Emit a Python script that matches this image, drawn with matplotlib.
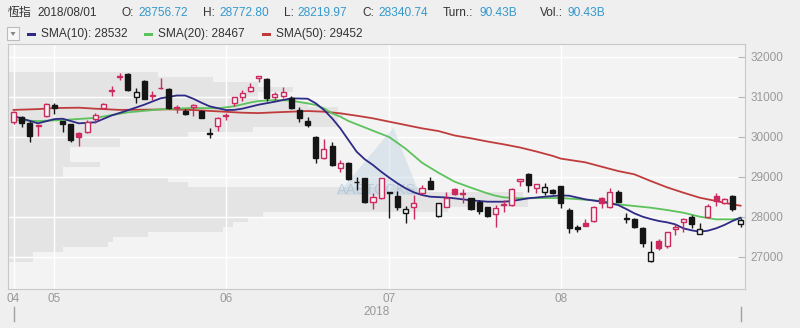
import numpy as np
import matplotlib.pyplot as plt
from matplotlib.patches import Rectangle, Polygon
from matplotlib.lines import Line2D
import matplotlib.transforms as mtransforms

plt.rcParams['font.family'] = ['Liberation Sans', 'Noto Sans CJK TC', 'DejaVu Sans']

# HSI daily candles, 2018-04-24 .. 2018-08-31
opens = [30359, 30500, 30334, 30280, 30525, 30792, 30392, 30325, 30100, 30108,
         30442, 30725, 31140, 31500, 31559, 31000, 31400, 31030, 31215, 31192,
         30715, 30642, 30733, 30642, 30090, 30275, 30515, 30833, 31000, 31150,
         31459, 31433, 30997, 31025, 30958, 30667, 30400, 30000, 29458, 29767,
         29208, 29333, 28880, 28958, 28358, 28458, 28600, 28525, 28100, 28234,
         28584, 28900, 28017, 28250, 28692, 28590, 28459, 28375, 28250, 28059,
         28300, 28292, 28892, 29067, 28725, 28625, 28667, 28756.72, 28167, 27750,
         27834, 27892, 28475, 28250, 28625, 27965, 27934, 27725, 26892, 27392,
         27275, 27684, 27859, 28000, 27567, 28000, 28525, 28350, 28525, 27809]
highs = [30640, 30517, 30392, 30300, 30850, 30833, 30400, 30330, 30125, 30417,
         30583, 30833, 31275, 31583, 31583, 31208, 31417, 31142, 31458, 31208,
         30792, 30683, 30817, 30667, 30208, 30500, 30583, 31000, 31167, 31333,
         31530, 31458, 31125, 31233, 31025, 30750, 30500, 30017, 29942, 29875,
         29417, 29375, 29000, 28975, 28583, 28975, 28620, 28642, 28275, 28542,
         28792, 28983, 28350, 28625, 28708, 28692, 28475, 28417, 28250, 28292,
         28417, 28709, 28942, 29083, 28817, 28834, 28692, 28772.80, 28225, 27792,
         27942, 28275, 28500, 28709, 28667, 28084, 27959, 27734, 27392, 27442,
         27625, 27809, 27959, 28042, 27834, 28309, 28584, 28475, 28542, 27975]
lows = [30330, 30250, 29875, 30025, 30500, 30560, 30125, 29860, 29775, 30083,
        30333, 30708, 31025, 31417, 31142, 30833, 30933, 30917, 31200, 30683,
        30583, 30542, 30525, 30458, 29975, 30142, 30417, 30775, 30892, 31125,
        31375, 30892, 30917, 30958, 30692, 30358, 30250, 29333, 29433, 29275,
        29125, 28917, 28667, 28350, 28192, 28442, 27975, 28167, 27850, 27942,
        28567, 28692, 28000, 28233, 28542, 28333, 28167, 28067, 28000, 27750,
        28125, 28275, 28775, 28625, 28584, 28542, 28559, 28219.97, 27584, 27625,
        27760, 27859, 28225, 28225, 28359, 27834, 27709, 27250, 26875, 27167,
        27225, 27542, 27609, 27709, 27559, 27975, 28275, 28309, 28142, 27750]
closes = [30625, 30334, 30025, 30295, 30809, 30725, 30309, 29917, 30000, 30375,
          30542, 30808, 31160, 31530, 31159, 31108, 30942, 31045, 31225, 30709,
          30730, 30575, 30792, 30475, 30075, 30475, 30530, 30983, 31083, 31250,
          31517, 30958, 31067, 31108, 30725, 30458, 30292, 29475, 29683, 29292,
          29333, 28933, 28870, 28358, 28500, 28958, 28610, 28250, 28183, 28333,
          28709, 28692, 28333, 28475, 28558, 28580, 28192, 28142, 28017, 28225,
          28310, 28684, 28934, 28792, 28817, 28734, 28584, 28340.74, 27725, 27684,
          27775, 28250, 28350, 28609, 28375, 27950, 27750, 27334, 27109, 27225,
          27609, 27750, 27942, 27809, 27684, 28275, 28392, 28434, 28192, 27917]
prev_close_0 = 30254

month_labels = ['04', '05', '06', '07', '08']
month_first = [0, 5, 26, 46, 67]

# moving averages, sampled along the drawn lines (day index, value)
sma10_i = [0, 3, 5, 6, 8, 10, 12, 14, 16, 18, 20, 21, 22, 23, 24, 26, 27, 28, 29, 30,
           32, 34, 36, 37, 38, 39, 40, 41, 42, 43, 44, 45, 46, 47, 48, 49, 50, 51, 53,
           54, 56, 58, 60, 61, 63, 65, 67, 68, 70, 72, 73, 74, 75, 76, 77, 78, 79, 80,
           81, 82, 83, 84, 85, 86, 87, 88, 89]
sma10_v = [30517, 30334, 30440, 30450, 30334, 30360, 30530, 30660, 30800, 30960,
           31030, 31030, 30950, 30850, 30760, 30667, 30670, 30700, 30750, 30800,
           30875, 30959, 30950, 30834, 30667, 30459, 30209, 29917, 29625, 29434,
           29292, 29125, 28975, 28834, 28709, 28609, 28542, 28500, 28480, 28459,
           28409, 28375, 28375, 28392, 28459, 28500, 28532, 28525, 28434, 28375,
           28334, 28292, 28192, 28084, 28000, 27942, 27892, 27859, 27809, 27709,
           27659, 27625, 27650, 27709, 27792, 27892, 27975]
sma20_i = [0, 3, 6, 10, 14, 18, 22, 25, 27, 29, 30, 32, 34, 36, 37, 38, 39, 40, 41,
           44, 46, 48, 50, 52, 54, 56, 58, 59, 60, 62, 64, 67, 70, 72, 74, 76, 78, 80,
           82, 84, 86, 88, 89]
sma20_v = [30420, 30390, 30417, 30470, 30609, 30684, 30720, 30709, 30760, 30855,
           30892, 30917, 30900, 30834, 30792, 30709, 30584, 30500, 30392, 30150,
           29990, 29700, 29350, 29100, 28875, 28725, 28584, 28525, 28484, 28459,
           28465, 28467, 28425, 28392, 28309, 28267, 28225, 28167, 28100, 28000,
           27934, 27934, 27959]
sma50_i = [0, 3, 5, 8, 10, 13, 16, 19, 22, 25, 28, 30, 32, 34, 36, 38, 40, 42, 44, 46,
           48, 50, 52, 54, 56, 58, 60, 62, 64, 66, 67, 70, 72, 74, 76, 78, 80, 82, 84,
           86, 88, 89]
sma50_v = [30670, 30690, 30717, 30725, 30700, 30670, 30675, 30684, 30667, 30634,
           30600, 30590, 30609, 30625, 30642, 30625, 30584, 30525, 30459, 30375,
           30292, 30209, 30142, 30030, 29960, 29880, 29809, 29730, 29630, 29520,
           29452, 29359, 29250, 29142, 29059, 28892, 28734, 28600, 28475, 28392,
           28309, 28275]

# volume-by-price profile (bin low edge, relative volume)
vp_price = [26875, 27000, 27125, 27250, 27375, 27500, 27625, 27750, 27875, 28000,
            28125, 28250, 28375, 28500, 28625, 28750, 28875, 29000, 29125, 29250,
            29375, 29500, 29625, 29750, 29875, 30000, 30125, 30250, 30375, 30500,
            30625, 30750, 30875, 31000, 31125, 31250, 31375, 31500]
vp_vol = [25, 25, 55, 100, 105, 140, 215, 225, 240, 255,
          440, 520, 520, 515, 410, 180, 160, 55, 55, 92,
          62, 62, 62, 112, 112, 180, 245, 330, 330, 335,
          330, 300, 250, 250, 285, 250, 205, 150]

hover = [('O:', '28756.72'), ('H:', '28772.80'), ('L:', '28219.97'),
         ('C:', '28340.74'), ('Turn.:', '90.43B'), ('Vol.:', '90.43B')]
legend = [('SMA(10): 28532', '#2e2a86'), ('SMA(20): 28467', '#5cc25c'),
          ('SMA(50): 29452', '#c03c3c')]

RED = '#cc2a5e'
BLK = '#151515'
BG = '#f3f3f3'

W, H = 800, 328
fig = plt.figure(figsize=(8, 3.28), dpi=100, facecolor='#efefef')
ax = fig.add_axes([8.3 / W, (H - 289.3) / H, 736.7 / W, 245 / H], facecolor=BG)
ax.set_xlim(-0.64, 89.54)
ax.set_ylim(26185, 32310)

# volume profile
x0 = ax.get_xlim()[0]
span = ax.get_xlim()[1] - x0
vv = np.array(vp_vol, float)
ax.barh(np.array(vp_price) + 62.5, vv / vv.max() * 0.706 * span, height=125,
        left=x0, color='#e4e4e4', lw=0, zorder=0.3)

# watermark
ax.add_patch(Polygon([(0.5226, 0.66), (0.4462, 0.385), (0.5588, 0.385)],
                     closed=True, transform=ax.transAxes, facecolor='#b7cde0',
                     alpha=0.38, lw=0, zorder=0.6))
ax.text(0.5005, 0.406, 'AASTOCKS', transform=ax.transAxes, ha='center',
        va='center', fontsize=10.5, color='#a3bdd2', alpha=0.6, zorder=0.7)

ax.set_axisbelow(True)
ax.grid(color='white', lw=1)

# moving averages
ax.plot(sma50_i, sma50_v, color=legend[2][1], lw=1.3, zorder=2)
ax.plot(sma20_i, sma20_v, color=legend[1][1], lw=1.3, zorder=2)
ax.plot(sma10_i, sma10_v, color=legend[0][1], lw=1.3, zorder=2)

# candles
o, hi, lo, c = map(np.array, (opens, highs, lows, closes))
x = np.arange(len(c))
prev = np.r_[prev_close_0, c[:-1]]
col = np.where(c > prev, RED, BLK)
hollow = c > o
ax.vlines(x, lo, hi, colors=col, lw=1, zorder=3)
body_h = np.maximum(np.abs(c - o), 8)
face = [BG if hh else cc for hh, cc in zip(hollow, col)]
ax.bar(x, body_h, bottom=np.minimum(o, c), width=0.62, color=face,
       edgecolor=col, lw=1, zorder=4)

# axes styling
for s in ax.spines.values():
    s.set_color('#c8c8c8')
ax.yaxis.tick_right()
ax.set_yticks([27000, 28000, 29000, 30000, 31000, 32000])
ax.tick_params(axis='y', direction='in', length=5, color='#b5b5b5', pad=4,
               labelsize=8.5, labelcolor='#999999')
ax.set_xticks(month_first)
ax.set_xticklabels(month_labels)
ax.tick_params(axis='x', length=0, pad=3, labelsize=8.5, labelcolor='#999999')

# year label with range markers
fig.text(376.6 / W, 1 - 312 / H, '2018', ha='center', va='center',
         fontsize=8.5, color='#999999')
bt = mtransforms.blended_transform_factory(ax.transData, fig.transFigure)
for xi in (x[0], x[-1]):
    fig.add_artist(Line2D([xi, xi], [1 - 307 / H, 1 - 321 / H], transform=bt,
                          color='#a0a0a0', lw=1))

# header row 1
def px(xp, yp):
    return xp / W, 1 - yp / H

fs = 8.6
fig.text(*px(8, 13), '恆指', fontsize=fs, color='#333333', va='center')
fig.text(*px(37, 13), '2018/08/01', fontsize=fs, color='#333333', va='center')
xs = [(122, 138), (203, 219), (284, 297), (362, 378), (443, 479), (540, 568)]
for (lab, val), (xl, xv) in zip(hover, xs):
    fig.text(*px(xl, 13), lab, fontsize=fs, color='#333333', va='center')
    fig.text(*px(xv, 13), val, fontsize=fs, color='#3399cc', va='center')

# header row 2: dropdown + legend
fig.add_artist(Rectangle(px(7, 40), 12 / W, 13 / H, transform=fig.transFigure,
                         facecolor='#f7f7f7', edgecolor='#bbbbbb', lw=0.8))
fig.add_artist(Polygon([px(10.5, 32), px(15.5, 32), px(13, 36)], closed=True,
                       transform=fig.transFigure, facecolor='#888888', lw=0))
for (txt, cc), xl in zip(legend, (27, 144, 262)):
    fig.add_artist(Rectangle(px(xl, 35.5), 9 / W, 3 / H,
                             transform=fig.transFigure, facecolor=cc, lw=0))
    fig.text(*px(xl + 14, 34), txt, fontsize=fs, color='#333333', va='center')

fig.savefig('out.png', dpi=100, facecolor=fig.get_facecolor())
